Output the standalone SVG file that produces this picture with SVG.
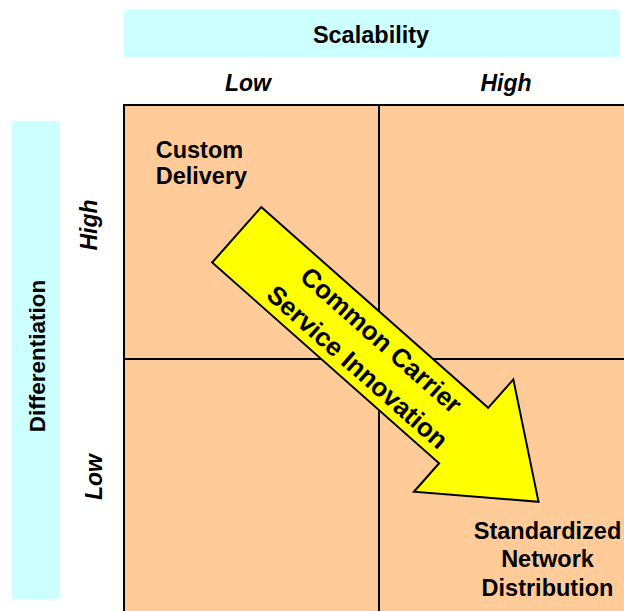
<svg xmlns="http://www.w3.org/2000/svg" width="624" height="611" viewBox="0 0 624 611">
  <style>
    .band { fill: #CCFFFF; stroke: none; }
    .cell { fill: #FFCC99; stroke: #000000; stroke-width: 2; }
    .t { font-family: "Liberation Sans", Arial, sans-serif; font-weight: bold; fill: #000000; }
    .title { font-size: 23.5px; }
    .axis { font-size: 23px; font-style: italic; }
    .lbl { font-size: 23.5px; }
    .arrowtxt { font-size: 26px; }
    .arrow { fill: #FFFF00; stroke: #000000; stroke-width: 2; stroke-linejoin: miter; }
  </style>

  <g id="scalability-header">
    <rect class="band" x="124" y="10" width="496" height="47"/>
    <text class="t title" x="371" y="42.5" text-anchor="middle">Scalability</text>
  </g>

  <g id="scalability-low">
    <text class="t axis" x="248" y="90.5" text-anchor="middle">Low</text>
  </g>
  <g id="scalability-high">
    <text class="t axis" x="506" y="90.5" text-anchor="middle">High</text>
  </g>

  <g id="differentiation-header">
    <rect class="band" x="12" y="121" width="48" height="478"/>
    <text class="t title" font-size="22.5" transform="translate(45,356) rotate(-90)" text-anchor="middle" style="font-size:22.5px">Differentiation</text>
  </g>

  <g id="differentiation-high">
    <text class="t axis" transform="translate(97.3,225) rotate(-90)" text-anchor="middle">High</text>
  </g>
  <g id="differentiation-low">
    <text class="t axis" transform="translate(102,477) rotate(-90)" text-anchor="middle">Low</text>
  </g>

  <g id="quadrants">
    <rect id="q-high-low" class="cell" x="124" y="105" width="255" height="254"/>
    <rect id="q-high-high" class="cell" x="379" y="105" width="255" height="254"/>
    <rect id="q-low-low" class="cell" x="124" y="359" width="255" height="254"/>
    <rect id="q-low-high" class="cell" x="379" y="359" width="255" height="254"/>
  </g>

  <g id="custom-delivery">
    <text class="t lbl" x="155.7" y="158.3">Custom</text>
    <text class="t lbl" x="155.7" y="183.5">Delivery</text>
  </g>

  <g id="standardized-network-distribution">
    <text class="t lbl" x="547.5" y="539" text-anchor="middle">Standardized</text>
    <text class="t lbl" x="547.5" y="567.3" text-anchor="middle">Network</text>
    <text class="t lbl" x="547.5" y="596" text-anchor="middle">Distribution</text>
  </g>

  <g id="connectors">
    <g id="arrow" transform="translate(236.7,234.8) rotate(41.5)">
      <polygon class="arrow" points="0,-37 303,-37 303,-75 403,0 303,75 303,37 0,37"/>
      <text class="t arrowtxt" x="178" y="-8" text-anchor="middle">Common Carrier</text>
      <text class="t arrowtxt" x="178" y="28" text-anchor="middle">Service Innovation</text>
    </g>
  </g>
</svg>
